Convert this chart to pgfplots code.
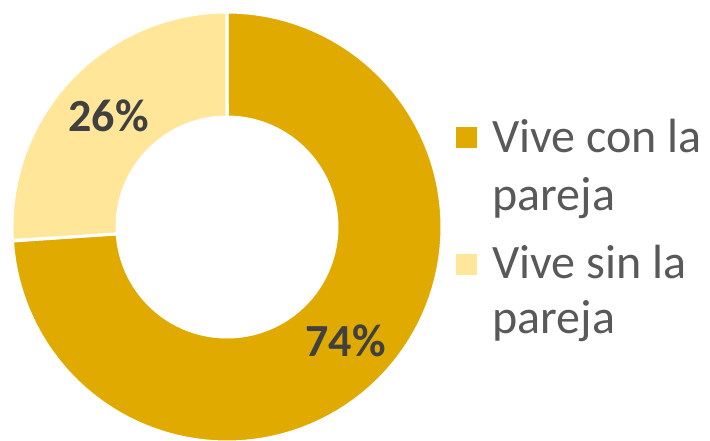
\documentclass[border=0pt]{standalone}
\usepackage{pgfplots}
\pgfplotsset{compat=1.18}
\usepackage{pgfplotstable}
\usepackage{fontspec}
\setmainfont{Carlito}

\definecolor{oro}{HTML}{E0AA00}
\definecolor{oroclaro}{HTML}{FFE699}
\definecolor{textogris}{HTML}{595959}
\definecolor{etiqueta}{HTML}{404040}

% porcentaje de personas
\pgfplotstableread{
label value
con 74
sin 26
}\datos

\begin{document}
\begin{tikzpicture}
\pgfplotstablegetelem{0}{value}\of\datos \let\va\pgfplotsretval
\pgfplotstablegetelem{1}{value}\of\datos \let\vb\pgfplotsretval
\pgfmathsetmacro{\aA}{90}
\pgfmathsetmacro{\aB}{90-3.6*\va}
\pgfmathsetmacro{\aC}{\aB-3.6*\vb}
\begin{axis}[
    width=355pt, height=220pt, scale only axis,
    xmin=0, xmax=710, ymin=0, ymax=440,
    hide axis,
  ]
  \def\cx{227}\def\cy{213}\def\Ro{215}\def\Ri{110}
  % anillo: arco exterior (t en [0,1]) y arco interior de vuelta (t en [2,3])
  \addplot[fill=oro, draw=white, line width=1.5pt, variable=\t,
    samples at={0,0.01,...,1,2,2.01,...,3}]
    ({\cx+(\t<1.5 ? \Ro : \Ri)*cos(\t<1.5 ? \aA+(\aB-\aA)*\t : \aB+(\aA-\aB)*(\t-2))},
     {\cy+(\t<1.5 ? \Ro : \Ri)*sin(\t<1.5 ? \aA+(\aB-\aA)*\t : \aB+(\aA-\aB)*(\t-2))}) -- cycle;
  \addplot[fill=oroclaro, draw=white, line width=1.5pt, variable=\t,
    samples at={0,0.01,...,1,2,2.01,...,3}]
    ({\cx+(\t<1.5 ? \Ro : \Ri)*cos(\t<1.5 ? \aB+(\aC-\aB)*\t : \aC+(\aB-\aC)*(\t-2))},
     {\cy+(\t<1.5 ? \Ro : \Ri)*sin(\t<1.5 ? \aB+(\aC-\aB)*\t : \aC+(\aB-\aC)*(\t-2))}) -- cycle;
  \pgfmathsetmacro{\mA}{(\aA+\aB)/2}
  \pgfmathsetmacro{\mB}{(\aB+\aC)/2}
  \pgfmathsetmacro{\Rm}{(\Ro+\Ri)/2}
  \node[font=\bfseries\fontsize{23}{28}\selectfont, text=etiqueta]
    at (axis cs:{\cx+\Rm*cos(\mA)},{\cy+\Rm*sin(\mA)-3}) {\va\%};
  \node[font=\bfseries\fontsize{23}{28}\selectfont, text=etiqueta]
    at (axis cs:{\cx+\Rm*cos(\mB)},{\cy+\Rm*sin(\mB)}) {\vb\%};
  % leyenda
  \fill[oro] (axis cs:456,292) rectangle (axis cs:477,313);
  \fill[oroclaro] (axis cs:456,165) rectangle (axis cs:477,186);
  \begin{scope}[every node/.style={anchor=base west, inner sep=0pt,
      text=textogris, font=\fontsize{24}{29}\selectfont}]
    \node at (axis cs:492,288) {Vive con la};
    \node at (axis cs:492,230) {pareja};
    \node at (axis cs:492,162) {Vive sin la};
    \node at (axis cs:492,107) {pareja};
  \end{scope}
\end{axis}
\pgfresetboundingbox
\useasboundingbox (current axis.south west) rectangle (current axis.north east);
\end{tikzpicture}
\end{document}
